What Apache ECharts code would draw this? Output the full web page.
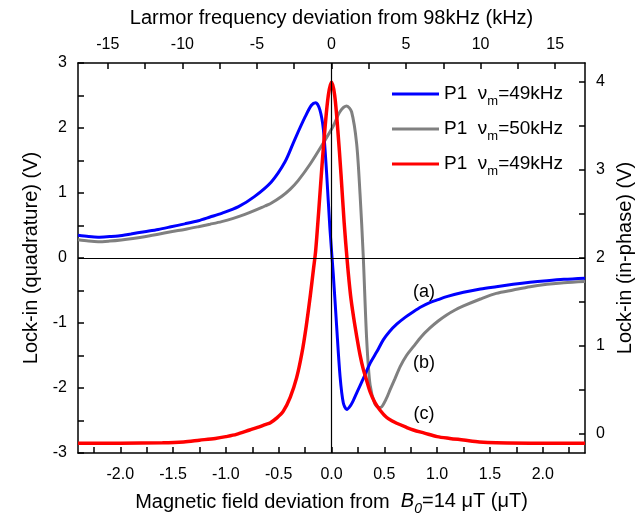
<!DOCTYPE html>
<html><head><meta charset="utf-8">
<script src="https://cdn.jsdelivr.net/npm/echarts@6/dist/echarts.min.js"></script>
<style>html,body{margin:0;padding:0;background:#fff}#c{width:641px;height:515px}</style>
</head><body><div id="c"></div>
<script>
// ---- data ----
const blueX = [-2.40,-2.30,-2.21,-2.10,-2.02,-1.90,-1.77,-1.64,-1.52,-1.39,-1.26,-1.15,-1.04,-0.88,-0.73,-0.57,-0.44,-0.35,-0.25,-0.19,-0.15,-0.11,-0.077,-0.046,-0.015,0.017,0.049,0.081,0.112,0.145,0.18,0.207,0.24,0.30,0.365,0.43,0.49,0.55,0.62,0.70,0.775,0.85,0.93,1.01,1.09,1.25,1.41,1.56,1.72,1.88,2.04,2.20,2.40];
const blueY = [0.35,0.33,0.32,0.33,0.34,0.37,0.405,0.44,0.48,0.525,0.574,0.63,0.687,0.79,0.944,1.17,1.48,1.815,2.17,2.35,2.39,2.28,1.98,1.30,0.45,-0.25,-1.06,-1.82,-2.23,-2.33,-2.27,-2.19,-2.07,-1.86,-1.62,-1.44,-1.26,-1.13,-1.015,-0.91,-0.826,-0.75,-0.687,-0.64,-0.595,-0.528,-0.477,-0.441,-0.405,-0.374,-0.349,-0.328,-0.31];

const grayX = [-2.40,-2.30,-2.21,-2.10,-1.99,-1.88,-1.77,-1.64,-1.52,-1.39,-1.26,-1.15,-1.04,-0.93,-0.82,-0.72,-0.63,-0.58,-0.47,-0.39,-0.316,-0.20,-0.077,0.017,0.08,0.144,0.19,0.238,0.27,0.30,0.333,0.365,0.41,0.45,0.475,0.52,0.554,0.60,0.65,0.71,0.775,0.85,0.93,1.01,1.09,1.17,1.25,1.41,1.56,1.72,1.88,2.04,2.20,2.40];
const grayY = [0.28,0.26,0.25,0.26,0.277,0.30,0.328,0.365,0.405,0.44,0.482,0.52,0.56,0.61,0.67,0.735,0.80,0.835,0.95,1.06,1.19,1.45,1.77,2.03,2.25,2.338,2.25,1.76,0.99,0.05,-1.25,-1.95,-2.24,-2.30,-2.29,-2.16,-2.03,-1.86,-1.67,-1.50,-1.364,-1.21,-1.08,-0.97,-0.877,-0.80,-0.738,-0.631,-0.544,-0.492,-0.441,-0.405,-0.379,-0.36];

const redX = [-2.40,-2.00,-1.60,-1.40,-1.25,-1.10,-1.00,-0.90,-0.775,-0.70,-0.62,-0.582,-0.52,-0.456,-0.39,-0.33,-0.28,-0.24,-0.20,-0.17,-0.15,-0.12,-0.09,-0.06,-0.03,0.0,0.03,0.06,0.09,0.12,0.15,0.18,0.21,0.24,0.27,0.30,0.33,0.365,0.41,0.46,0.52,0.58,0.617,0.70,0.775,0.88,1.00,1.12,1.25,1.40,1.56,2.00,2.40];
const redY = [-0.105,-0.105,-0.10,-0.09,-0.07,-0.05,-0.03,-0.005,0.045,0.075,0.11,0.125,0.18,0.26,0.42,0.64,0.92,1.22,1.58,1.88,2.08,2.55,3.05,3.50,3.85,4.0,3.85,3.45,2.95,2.40,1.95,1.58,1.32,1.10,0.90,0.74,0.62,0.48,0.36,0.27,0.19,0.145,0.122,0.08,0.045,0.01,-0.03,-0.05,-0.068,-0.09,-0.10,-0.105,-0.105];

const legendFreqs = ['49kHz','50kHz','49kHz'];
const annotations = ['(a)','(b)','(c)'];

const bottomTicks = [-2.25,-2.0,-1.75,-1.5,-1.25,-1.0,-0.75,-0.5,-0.25,0,0.25,0.5,0.75,1.0,1.25,1.5,1.75,2.0,2.25];
const bottomLabels = [-2.0,-1.5,-1.0,-0.5,0,0.5,1.0,1.5,2.0];
const topTicks = [-15,-12.5,-10,-7.5,-5,-2.5,0,2.5,5,7.5,10,12.5,15];
const topLabels = [-15,-10,-5,0,5,10,15];
const rightTicks = [0,0.5,1,1.5,2,2.5,3,3.5,4];
const rightLabels = [0,1,2,3,4];

// ---- chart ----
const FONT = "'Liberation Sans', Arial, sans-serif";
const zip = (xs, ys) => xs.map((x, i) => [x, ys[i]]);
const axisLineStyle = {color:'#000', width:1.5};
const tickStyle = {color:'#000', width:1.5};

const chart = echarts.init(document.getElementById('c'), null, {renderer:'canvas'});
const seriesNames = ['blue','gray','red'];
const option = {
  animation:false,
  backgroundColor:'#fff',
  textStyle:{fontFamily:FONT},
  grid:{left:78, right:56, top:63, bottom:62, containLabel:false, outerBoundsMode:'none'},
  legend:{
    orient:'vertical', left:387, top:79, itemWidth:47, itemHeight:3, itemGap:11, icon:'rect',
    data:seriesNames,
    formatter: name => '{t|P1  ν}{s|m}{t|=' + legendFreqs[seriesNames.indexOf(name)] + '}',
    textStyle:{fontFamily:FONT, color:'#000', rich:{
      t:{fontSize:19, fontFamily:FONT, color:'#000', lineHeight:20, verticalAlign:'top'},
      s:{fontSize:13, fontFamily:FONT, color:'#000', lineHeight:20, padding:[11,0,0,0], verticalAlign:'top'}
    }}
  },
  xAxis:[
    {type:'value', position:'bottom', min:-2.4, max:2.4,
     axisLine:{show:true, onZero:false, lineStyle:axisLineStyle},
     axisTick:{show:true, inside:true, length:6, lineStyle:tickStyle, customValues:bottomTicks},
     axisLabel:{color:'#000', fontSize:16, fontFamily:FONT, margin:14, customValues:bottomLabels,
       formatter: v => v.toFixed(1)},
     splitLine:{show:false},
     name:'Magnetic field deviation from  {i|B}{is|0}{n|=14 μT (μT)}',
     nameLocation:'middle', nameGap:38,
     nameTextStyle:{color:'#000', fontSize:20, fontFamily:FONT, rich:{
       i:{fontSize:20, fontStyle:'italic', fontFamily:FONT, color:'#000', lineHeight:22, verticalAlign:'top'},
       is:{fontSize:14, fontStyle:'italic', fontFamily:FONT, color:'#000', lineHeight:22, padding:[11,0,0,0], verticalAlign:'top'},
       n:{fontSize:20, fontFamily:FONT, color:'#000', lineHeight:22, verticalAlign:'top'}
     }}
    },
    {type:'value', position:'top', min:-17, max:17,
     axisLine:{show:true, onZero:false, lineStyle:axisLineStyle},
     axisTick:{show:true, inside:true, length:6, lineStyle:tickStyle, customValues:topTicks},
     axisLabel:{color:'#000', fontSize:16, fontFamily:FONT, margin:10, customValues:topLabels},
     splitLine:{show:false},
     name:'Larmor frequency deviation from 98kHz (kHz)',
     nameLocation:'middle', nameGap:35,
     nameTextStyle:{color:'#000', fontSize:20, fontFamily:FONT}
    }
  ],
  yAxis:[
    {type:'value', position:'left', min:-3, max:3, interval:0.5,
     axisLine:{show:true, onZero:false, lineStyle:axisLineStyle},
     axisTick:{show:true, inside:true, length:6, lineStyle:tickStyle},
     axisLabel:{color:'#000', fontSize:16, fontFamily:FONT, margin:11,
       formatter: v => (Number.isInteger(v) ? String(v) : '')},
     splitLine:{show:false},
     name:'Lock-in (quadrature) (V)', nameLocation:'middle', nameGap:35, nameRotate:90,
     nameTextStyle:{color:'#000', fontSize:20, fontFamily:FONT}
    },
    {type:'value', position:'right', min:-0.216, max:4.216,
     axisLine:{show:true, onZero:false, lineStyle:axisLineStyle},
     axisTick:{show:true, inside:true, length:6, lineStyle:tickStyle, customValues:rightTicks},
     axisLabel:{color:'#000', fontSize:16, fontFamily:FONT, margin:11, customValues:rightLabels},
     splitLine:{show:false},
     name:'Lock-in (in-phase) (V)', nameLocation:'middle', nameGap:23, nameRotate:90,
     nameTextStyle:{color:'#000', fontSize:20, fontFamily:FONT}
    }
  ],
  series:[
    {name:'blue', type:'line', xAxisIndex:0, yAxisIndex:0, data:zip(blueX, blueY),
     smooth:0.3, symbol:'none', lineStyle:{color:'#0000ff', width:3}, itemStyle:{color:'#0000ff'}, z:3,
     markLine:{silent:true, symbol:'none', label:{show:false}, animation:false,
       lineStyle:{color:'#000', width:1.2, type:'solid'}, data:[{yAxis:0},{xAxis:0}]}
    },
    {name:'gray', type:'line', xAxisIndex:0, yAxisIndex:0, data:zip(grayX, grayY),
     smooth:0.3, symbol:'none', lineStyle:{color:'#808080', width:3}, itemStyle:{color:'#808080'}, z:2,
     markPoint:{symbol:'circle', symbolSize:0, silent:true,
       label:{show:true, position:'inside', color:'#000', fontSize:18, fontFamily:FONT, formatter:'{b}'},
       data:[{name:annotations[0], coord:[0.876,-0.53]},{name:annotations[1], coord:[0.876,-1.61]},{name:annotations[2], coord:[0.876,-2.40]}]}
    },
    {name:'red', type:'line', xAxisIndex:0, yAxisIndex:1, data:zip(redX, redY),
     smooth:0.3, symbol:'none', lineStyle:{color:'#ff0000', width:3.5}, itemStyle:{color:'#ff0000'}, z:4}
  ]
};
chart.setOption(option);
</script>
</body></html>
